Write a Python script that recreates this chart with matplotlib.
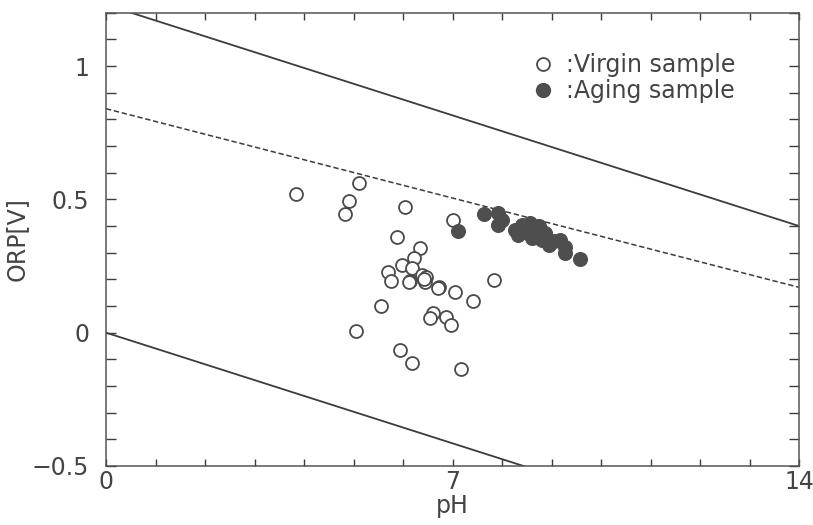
import matplotlib
matplotlib.use("Agg")
import matplotlib.pyplot as plt
from matplotlib.ticker import FixedLocator, MultipleLocator
from matplotlib.lines import Line2D

# open circles: virgin samples
virgin_ph = [3.83, 5.12, 4.90, 4.82, 6.05, 5.88, 6.34, 6.23, 5.98, 6.19,
             5.69, 5.76, 6.15, 6.13, 6.38, 6.47, 6.44, 6.42, 6.72, 6.70,
             7.06, 7.42, 7.84, 5.56, 5.05, 6.61, 6.54, 6.86, 6.96, 5.93,
             6.18, 7.18, 7.01]
virgin_orp = [0.520, 0.562, 0.494, 0.445, 0.470, 0.358, 0.319, 0.279, 0.254, 0.244,
              0.226, 0.195, 0.194, 0.190, 0.216, 0.208, 0.191, 0.200, 0.172, 0.168,
              0.154, 0.120, 0.198, 0.100, 0.006, 0.073, 0.054, 0.058, 0.029, -0.065,
              -0.112, -0.136, 0.422]

# filled circles: aging samples
aging_ph = [7.11, 7.63, 7.92, 7.99, 7.92, 8.26, 8.40, 8.57, 8.33, 8.53,
            8.70, 8.60, 8.87, 8.80, 8.94, 9.17, 9.27, 9.27, 9.58, 8.45,
            8.65, 9.05, 8.75]
aging_orp = [0.381, 0.445, 0.448, 0.423, 0.404, 0.385, 0.404, 0.410, 0.366, 0.373,
             0.385, 0.354, 0.373, 0.348, 0.329, 0.348, 0.323, 0.298, 0.275, 0.390,
             0.360, 0.345, 0.400]

# reference lines (water stability limits and boundary)
line_ph = [0, 14]
upper_orp = [1.23, 0.40]
lower_orp = [0.0, -0.83]
dashed_orp = [0.84, 0.17]

plt.rcParams['font.family'] = ['Liberation Sans Narrow', 'DejaVu Sans']
ink = '#3c3c3c'
txt = '#444444'

fig = plt.figure(figsize=(8.13, 5.25), dpi=100)
ax = fig.add_axes([0.1304, 0.1124, 0.8524, 0.8634])

ax.plot(line_ph, upper_orp, color=ink, lw=1.3)
ax.plot(line_ph, lower_orp, color=ink, lw=1.3)
ax.plot(line_ph, dashed_orp, color=ink, lw=1.1, dashes=(3.5, 1.8))

ax.plot(virgin_ph, virgin_orp, 'o', ms=9.3, mfc='white', mec='#4a4a4a', mew=1.3,
        ls='none', zorder=3)
ax.plot(aging_ph, aging_orp, 'o', ms=10, mfc='#4e4e4e', mec='#4e4e4e', mew=0.8,
        ls='none', zorder=4)

ax.set_xlim(0, 14)
ax.set_ylim(-0.5, 1.2)

ax.xaxis.set_major_locator(FixedLocator([0, 7, 14]))
ax.xaxis.set_minor_locator(MultipleLocator(1))
ax.yaxis.set_major_locator(FixedLocator([-0.5, 0, 0.5, 1]))
ax.yaxis.set_minor_locator(MultipleLocator(0.1))
ax.set_xticklabels(['0', '7', '14'])
ax.set_yticklabels(['\u22120.5', '0', '0.5', '1'])

ax.tick_params(which='both', direction='in', top=True, right=True,
               color=ink, width=1.0, labelsize=17, labelcolor=txt)
ax.tick_params(axis='y', which='both', length=7, pad=12)
ax.tick_params(axis='x', which='both', length=5, pad=3)

for s in ax.spines.values():
    s.set_color('#555555')
    s.set_linewidth(1.1)

ax.set_xlabel('pH', fontsize=17, color=txt, labelpad=0)
ax.set_ylabel('ORP[V]', fontsize=17, color=txt, labelpad=2)

handles = [
    Line2D([], [], marker='o', ls='none', ms=9.3, mfc='white', mec='#4a4a4a', mew=1.3),
    Line2D([], [], marker='o', ls='none', ms=10, mfc='#4e4e4e', mec='#4e4e4e'),
]
ax.legend(handles, [':Virgin sample', ':Aging sample'], loc='upper left',
          bbox_to_anchor=(0.596, 0.9375), frameon=False, fontsize=17,
          borderpad=0, handlelength=1, handletextpad=0.5, labelspacing=0.1,
          labelcolor=txt)

fig.savefig('out.png', dpi=100)
